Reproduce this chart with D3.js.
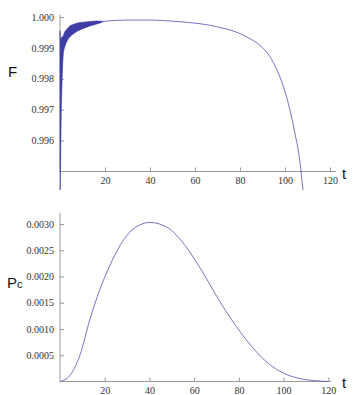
<!DOCTYPE html>
<html>
<head>
<meta charset="utf-8">
<script src="https://cdn.jsdelivr.net/npm/d3@7"></script>
<style>
  body { margin: 0; background: #fff; }
  svg { display: block; }
  .lbl { font-family: "Liberation Sans", Arial, sans-serif; fill: #111; }
</style>
</head>
<body>
<svg id="chart" width="354" height="395"></svg>
<script>
// fidelity F(t): main curve after the fast oscillations die out
const fT = [17, 20, 25, 30, 40, 49, 56, 60, 66, 71, 76, 80, 84.4, 88.9, 93.3, 96.3, 99.3, 102.2, 104.4, 106.7, 107.9, 108.6];
const fVal = [0.99983, 0.99986, 0.99989, 0.99990, 0.99990, 0.99987, 0.99983, 0.99980, 0.99974, 0.99966, 0.99957, 0.99946, 0.99930, 0.99908, 0.99872, 0.99831, 0.99775, 0.99700, 0.99626, 0.99529, 0.99448, 0.99400];

// envelope of the fast oscillations near t = 0 (drawn as a filled band)
const bandT = [0, 0.3, 0.5, 0.8, 1.0, 1.5, 2.0, 3.0, 4.4, 5.9, 7.4, 10.4, 13.3, 16.3, 19];
const bandLow = [0.9938, 0.9955, 0.9966, 0.9976, 0.9981, 0.99883, 0.99900, 0.99920, 0.99936, 0.99945, 0.99953, 0.99963, 0.99971, 0.99977, 0.99984];
const bandHigh = [0.99955, 0.99925, 0.99930, 0.99935, 0.99936, 0.99940, 0.99950, 0.99960, 0.99971, 0.99976, 0.99980, 0.99983, 0.99985, 0.99987, 0.99986];

// probability Pc(t)
const pT = [0, 4.4, 8.9, 13.3, 17.8, 22.2, 26.7, 31.1, 35.6, 40, 44.5, 48.9, 56.3, 63.7, 71.1, 78.5, 85.9, 93.3, 100.7, 108.1, 113, 117, 120];
const pVal = [0, 0.000115, 0.00050, 0.00117, 0.00175, 0.00220, 0.00258, 0.00284, 0.00298, 0.00303, 0.00300, 0.00291, 0.00257, 0.00209, 0.00155, 0.00107, 0.00066, 0.00034, 0.000145, 0.00005, 0.00002, 0.000005, 0];

const fMajor = [0.996, 0.997, 0.998, 0.999, 1.000];
const fMinor = d3.range(1, 26).map(i => 0.995 + i * 0.0002);
const pMajor = [0.0005, 0.0010, 0.0015, 0.0020, 0.0025, 0.0030];
const pMinor = d3.range(1, 33).map(i => i * 0.0001);
const tMajor = [20, 40, 60, 80, 100, 120];
const tMinor = d3.range(5, 125, 5);

const svg = d3.select("#chart");
const lineColor = "#5252b0";
const serif = "'Liberation Serif', 'Times New Roman', 'DejaVu Serif', serif";

function drawAxes(g, x, y, yMajor, yMinor, yFmt, tMax) {
  const xAx = g.append("g").attr("transform", "translate(0," + y.range()[0] + ")");
  xAx.call(d3.axisBottom(x).tickValues(tMinor.filter(d => d <= tMax)).tickSize(-2).tickFormat(""));
  xAx.call(d3.axisBottom(x).tickValues(tMajor).tickSizeInner(-4).tickSizeOuter(0).tickPadding(5).tickFormat(d3.format("d")));
  xAx.selectAll("path.domain").remove();
  xAx.append("line").attr("x1", x.range()[0]).attr("x2", x.range()[1]);

  const yAx = g.append("g").attr("transform", "translate(" + x.range()[0] + ",0)");
  yAx.call(d3.axisLeft(y).tickValues(yMinor).tickSize(-2).tickFormat(""));
  yAx.call(d3.axisLeft(y).tickValues(yMajor).tickSizeInner(-4).tickSizeOuter(0).tickPadding(6).tickFormat(yFmt));
  yAx.selectAll("path.domain").remove();
  yAx.append("line").attr("y1", y.range()[0]).attr("y2", y.range()[1]);

  g.selectAll("line").attr("stroke", "#999").attr("stroke-width", 1);
  g.selectAll("text")
    .attr("font-family", null).style("font-family", serif)
    .style("font-size", "10px").attr("fill", "#333");
}

// ---- top: F ----
const xF = d3.scaleLinear().domain([0, 122.7]).range([60, 336]);
const yF = d3.scaleLinear().domain([0.995, 1.00007]).range([171.5, 14.8]);

svg.append("clipPath").attr("id", "clipF")
  .append("rect").attr("x", 58).attr("y", 8).attr("width", 280).attr("height", 182);

const gF = svg.append("g");
drawAxes(gF, xF, yF, fMajor, fMinor, d3.format(".3f"), 122);

const plotF = gF.append("g").attr("clip-path", "url(#clipF)");
plotF.append("path")
  .datum(bandT.map((t, i) => [t, bandLow[i], bandHigh[i]]))
  .attr("fill", "#3d3da5")
  .attr("stroke", "#3d3da5")
  .attr("stroke-width", 0.6)
  .attr("d", d3.area().x(d => xF(d[0])).y0(d => yF(d[1])).y1(d => yF(d[2])).curve(d3.curveMonotoneX));
plotF.append("path")
  .datum(fT.map((t, i) => [t, fVal[i]]))
  .attr("fill", "none")
  .attr("stroke", lineColor)
  .attr("stroke-width", 0.8)
  .attr("d", d3.line().x(d => xF(d[0])).y(d => yF(d[1])).curve(d3.curveMonotoneX));

svg.append("text").attr("class", "lbl").attr("x", 8).attr("y", 77).attr("font-size", 15).text("F");
svg.append("text").attr("class", "lbl").attr("x", 342).attr("y", 179).attr("font-size", 15).text("t");

// ---- bottom: Pc ----
const xP = d3.scaleLinear().domain([0, 121.2]).range([60, 331]);
const yP = d3.scaleLinear().domain([0, 0.00321]).range([381.5, 213]);

const gP = svg.append("g");
drawAxes(gP, xP, yP, pMajor, pMinor, d3.format(".4f"), 120);

gP.append("path")
  .datum(pT.map((t, i) => [t, pVal[i]]))
  .attr("fill", "none")
  .attr("stroke", lineColor)
  .attr("stroke-width", 0.8)
  .attr("d", d3.line().x(d => xP(d[0])).y(d => yP(d[1])).curve(d3.curveMonotoneX));

const pc = svg.append("text").attr("class", "lbl").attr("x", 7).attr("y", 288).attr("font-size", 15);
pc.append("tspan").text("P");
pc.append("tspan").attr("font-size", 11).text("c");
svg.append("text").attr("class", "lbl").attr("x", 342).attr("y", 388).attr("font-size", 15).text("t");
</script>
</body>
</html>
